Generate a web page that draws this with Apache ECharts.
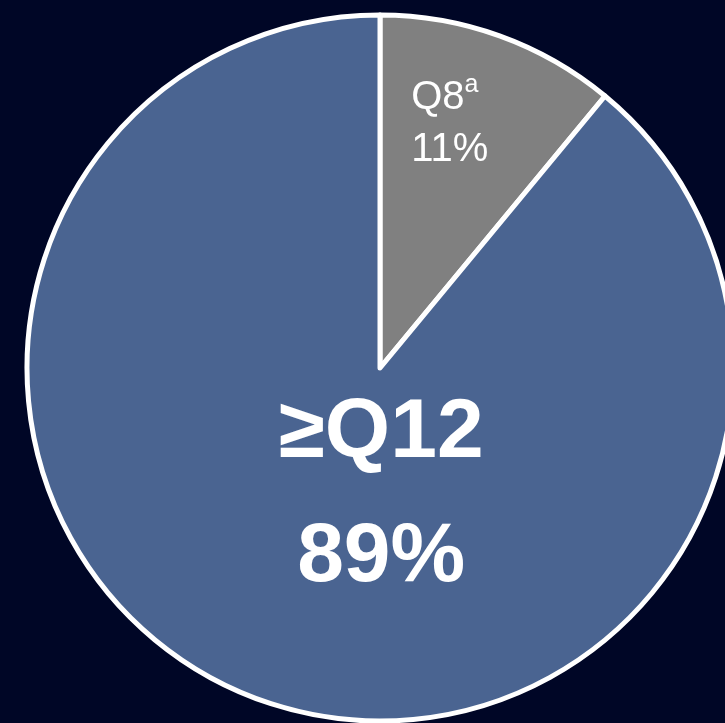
<!DOCTYPE html>
<html>
<head>
<meta charset="utf-8">
<script src="https://cdn.jsdelivr.net/npm/echarts@6/dist/echarts.min.js"></script>
<style>
  html, body { margin: 0; padding: 0; background: #000626; }
  #chart { width: 725px; height: 723px; }
</style>
</head>
<body>
<div id="chart"></div>
<script>
var categories = ['Q8', '\u2265Q12']
var superscripts = ['a', '']
var values = [11, 89]
var colors = ['#808080', '#4a6491']

var chart = echarts.init(document.getElementById('chart'))

var pieData = categories.map(function (name, i) {
  var big = i === 1
  return {
    name: name,
    value: values[i],
    itemStyle: { color: colors[i] },
    label: big ? {
      formatter: '{b|{b}}\n{b|{c}%}',
      offset: [62, -41]
    } : {
      formatter: '{s|{b}}{sup|' + superscripts[i] + '}\n{s|{c}%}',
      offset: [9, -75]
    }
  }
})

chart.setOption({
  backgroundColor: '#000626',
  animation: false,
  series: [{
    type: 'pie',
    center: [380, 368],
    radius: [0, 353],
    startAngle: 90,
    clockwise: true,
    itemStyle: {
      borderColor: '#ffffff',
      borderWidth: 5
    },
    label: {
      show: true,
      position: 'inside',
      fontFamily: 'Liberation Sans',
      color: '#ffffff',
      rich: {
        s: { fontSize: 40, lineHeight: 52, align: 'left', color: '#ffffff', fontFamily: 'Liberation Sans' },
        sup: { fontSize: 25, lineHeight: 40, align: 'left', verticalAlign: 'top', color: '#ffffff', fontFamily: 'Liberation Sans' },
        b: { fontSize: 84, lineHeight: 124, fontWeight: 'bold', color: '#ffffff', fontFamily: 'Liberation Sans' }
      }
    },
    labelLine: { show: false },
    emphasis: { disabled: true },
    data: pieData
  }]
})
</script>
</body>
</html>
